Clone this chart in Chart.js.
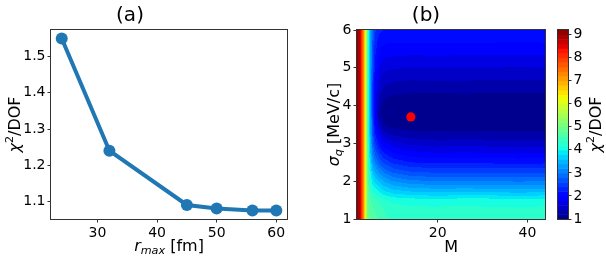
<!DOCTYPE html>
<html>
<head>
    <title>chi2 scans</title>
    <script src="https://cdn.jsdelivr.net/npm/chart.js"></script>
    <style>
        body { margin: 0; background: #fff; }
        .wrap { position: relative; width: 606px; height: 262px; }
        canvas { position: absolute; top: 0; }
        #chartA { left: 0; }
        #chartB { left: 300px; }
        #chartC { left: 550px; }
    </style>
</head>
<body>
<div class="wrap">
    <canvas id="chartA" width="300" height="262"></canvas>
    <canvas id="chartB" width="250" height="262"></canvas>
    <canvas id="chartC" width="56" height="262"></canvas>
</div>
<script>
// (a) chi2/DOF vs r_max
const rmax = [24, 32, 45, 50, 56, 60];
const chi2Rmax = [1.55, 1.24, 1.09, 1.08, 1.075, 1.075];
const rmaxTicks = [30, 40, 50, 60];
const chi2Ticks = [1.1, 1.2, 1.3, 1.4, 1.5];

// (b) chi2/DOF map over M and sigma_q
const mGrid = [2, 2.5, 3, 3.5, 4, 4.5, 5, 5.5, 6, 7, 8, 10, 14, 20, 26, 32, 38, 44];
const sigmaGrid = [1, 1.25, 1.5, 1.75, 2, 2.25, 2.5, 2.75, 3, 3.25, 3.5, 3.75, 4, 4.25, 4.5, 4.75, 5, 5.25, 5.5, 5.75, 6];
// one row per sigma value, one column per M value
const chi2Map = [
    [9.2, 8.9, 8.2, 7.3, 5.8, 4.9, 4.75, 4.7, 4.65, 4.55, 4.45, 4.35, 4.3, 4.32, 4.3, 4.28, 4.3, 4.3],
    [9.2, 8.9, 8.2, 7.3, 5.8, 4.85, 4.7, 4.65, 4.6, 4.5, 4.4, 4.3, 4.25, 4.27, 4.25, 4.24, 4.26, 4.25],
    [9.2, 8.9, 8.2, 7.3, 5.8, 4.8, 4.6, 4.5, 4.45, 4.35, 4.25, 4.15, 4.1, 4.05, 4.12, 4.1, 4.05, 4.1],
    [9.2, 8.9, 8.2, 7.3, 5.8, 4.7, 4.4, 4.2, 4.1, 3.95, 3.8, 3.65, 3.55, 3.5, 3.52, 3.5, 3.48, 3.5],
    [9.2, 8.9, 8.2, 7.3, 5.8, 4.6, 4.2, 3.9, 3.75, 3.55, 3.4, 3.2, 3.05, 3.0, 3.02, 3.0, 2.98, 3.0],
    [9.2, 8.9, 8.2, 7.3, 5.8, 4.5, 4.0, 3.6, 3.4, 3.15, 2.95, 2.75, 2.6, 2.55, 2.56, 2.55, 2.54, 2.55],
    [9.2, 8.9, 8.2, 7.3, 5.8, 4.4, 3.8, 3.3, 3.05, 2.75, 2.55, 2.35, 2.2, 2.15, 2.16, 2.15, 2.14, 2.15],
    [9.2, 8.9, 8.2, 7.3, 5.8, 4.35, 3.6, 3.05, 2.75, 2.4, 2.2, 2.0, 1.85, 1.8, 1.82, 1.8, 1.79, 1.8],
    [9.2, 8.9, 8.2, 7.3, 5.8, 4.3, 3.5, 2.85, 2.5, 2.1, 1.85, 1.7, 1.55, 1.5, 1.51, 1.5, 1.5, 1.5],
    [9.2, 8.9, 8.2, 7.3, 5.8, 4.3, 3.4, 2.7, 2.25, 1.8, 1.5, 1.35, 1.27, 1.25, 1.26, 1.25, 1.25, 1.25],
    [9.2, 8.9, 8.2, 7.3, 5.8, 4.3, 3.4, 2.6, 2.05, 1.45, 1.2, 1.1, 1.08, 1.07, 1.07, 1.07, 1.07, 1.07],
    [9.2, 8.9, 8.2, 7.3, 5.8, 4.3, 3.4, 2.5, 1.9, 1.25, 1.08, 1.03, 1.01, 1.01, 1.01, 1.01, 1.01, 1.01],
    [9.2, 8.9, 8.2, 7.3, 5.8, 4.3, 3.35, 2.5, 1.9, 1.3, 1.12, 1.06, 1.04, 1.04, 1.04, 1.04, 1.04, 1.04],
    [9.2, 8.9, 8.2, 7.3, 5.8, 4.3, 3.35, 2.5, 1.95, 1.4, 1.25, 1.18, 1.16, 1.15, 1.16, 1.15, 1.15, 1.15],
    [9.2, 8.9, 8.2, 7.3, 5.8, 4.3, 3.35, 2.5, 2.0, 1.55, 1.4, 1.33, 1.3, 1.3, 1.31, 1.3, 1.3, 1.3],
    [9.2, 8.9, 8.2, 7.3, 5.8, 4.3, 3.35, 2.55, 2.05, 1.65, 1.52, 1.47, 1.45, 1.46, 1.45, 1.44, 1.45, 1.45],
    [9.2, 8.9, 8.2, 7.3, 5.8, 4.3, 3.35, 2.6, 2.15, 1.78, 1.66, 1.62, 1.6, 1.61, 1.6, 1.6, 1.59, 1.6],
    [9.2, 8.9, 8.2, 7.3, 5.8, 4.3, 3.35, 2.65, 2.2, 1.9, 1.8, 1.77, 1.75, 1.76, 1.75, 1.75, 1.74, 1.75],
    [9.2, 8.9, 8.2, 7.3, 5.8, 4.3, 3.35, 2.7, 2.3, 2.0, 1.93, 1.91, 1.9, 1.91, 1.9, 1.9, 1.89, 1.9],
    [9.2, 8.9, 8.2, 7.3, 5.8, 4.3, 3.35, 2.75, 2.35, 2.12, 2.07, 2.05, 2.05, 2.06, 2.05, 2.05, 2.04, 2.05],
    [9.2, 8.9, 8.2, 7.3, 5.8, 4.3, 3.35, 2.8, 2.45, 2.25, 2.2, 2.17, 2.15, 2.16, 2.15, 2.15, 2.14, 2.15]
];
const bestM = [14];
const bestSigma = [3.7];
const mTicks = [20, 40];
const sigmaTicks = [1, 2, 3, 4, 5, 6];
const cbarTicks = [1, 2, 3, 4, 5, 6, 7, 8, 9];
const cbarMin = 1, cbarMax = 9.2, cbarStep = 0.2;

Chart.defaults.font.family = '"DejaVu Sans"';
Chart.defaults.color = '#000';

function jet(t) {
    t = Math.max(0, Math.min(1, t));
    const seg = pts => {
        for (let i = 1; i < pts.length; i++) {
            if (t <= pts[i][0]) {
                const [t0, v0] = pts[i - 1], [t1, v1] = pts[i];
                return v0 + (v1 - v0) * (t - t0) / (t1 - t0);
            }
        }
        return pts[pts.length - 1][1];
    };
    return [
        seg([[0, 0], [0.35, 0], [0.66, 1], [0.89, 1], [1, 0.5]]),
        seg([[0, 0], [0.125, 0], [0.375, 1], [0.64, 1], [0.91, 0], [1, 0]]),
        seg([[0, 0.5], [0.11, 1], [0.34, 1], [0.65, 0], [1, 0]])
    ].map(c => Math.round(c * 255));
}

function bandColor(v) {
    const k = Math.min(Math.floor((v - cbarMin) / cbarStep), Math.round((cbarMax - cbarMin) / cbarStep) - 1);
    const mid = cbarMin + (Math.max(k, 0) + 0.5) * cbarStep;
    return jet((mid - cbarMin) / (cbarMax - cbarMin));
}

function findCell(grid, v) {
    let i = 0;
    while (i < grid.length - 2 && v > grid[i + 1]) i++;
    const f = Math.max(0, Math.min(1, (v - grid[i]) / (grid[i + 1] - grid[i])));
    return [i, f];
}

function sampleMap(m, s) {
    const [i, fx] = findCell(mGrid, m);
    const [j, fy] = findCell(sigmaGrid, s);
    const a = chi2Map[j][i], b = chi2Map[j][i + 1];
    const c = chi2Map[j + 1][i], d = chi2Map[j + 1][i + 1];
    return (a * (1 - fx) + b * fx) * (1 - fy) + (c * (1 - fx) + d * fx) * fy;
}

function drawRich(ctx, parts, cx, cy, rot, size) {
    ctx.save();
    ctx.translate(cx, cy);
    ctx.rotate(rot);
    const fontOf = p => (p.italic ? 'italic ' : '') + (p.sub || p.sup ? size * 0.7 : size) + 'px "DejaVu Sans"';
    let total = 0;
    const widths = parts.map(p => {
        ctx.font = fontOf(p);
        const w = ctx.measureText(p.text).width;
        total += w;
        return w;
    });
    let x = -total / 2;
    ctx.fillStyle = '#000';
    ctx.textBaseline = 'alphabetic';
    parts.forEach((p, i) => {
        ctx.font = fontOf(p);
        let dy = size * 0.36;
        if (p.sub) dy += size * 0.2;
        if (p.sup) dy -= size * 0.42;
        ctx.fillText(p.text, x, dy);
        x += widths[i];
    });
    ctx.restore();
}

function labelsPlugin(list) {
    return {
        id: 'richLabels',
        afterDraw(chart) {
            const a = chart.chartArea;
            list.forEach(l => drawRich(chart.ctx, l.parts, l.x(a), l.y(a), l.rot || 0, l.size));
        }
    };
}

const framePlugin = {
    id: 'frame',
    afterDraw(chart) {
        const { ctx, chartArea: a } = chart;
        ctx.save();
        ctx.strokeStyle = '#333';
        ctx.lineWidth = 1;
        ctx.strokeRect(Math.round(a.left) - 0.5, Math.round(a.top) - 0.5,
            Math.round(a.right - a.left) + 1, Math.round(a.bottom - a.top) + 1);
        ctx.restore();
    }
};

const heatmapPlugin = {
    id: 'heatmap',
    beforeDatasetsDraw(chart) {
        const { ctx, chartArea: a, scales: { x, y } } = chart;
        const w = Math.round(a.right - a.left), h = Math.round(a.bottom - a.top);
        const off = document.createElement('canvas');
        off.width = w; off.height = h;
        const octx = off.getContext('2d');
        const img = octx.createImageData(w, h);
        for (let j = 0; j < h; j++) {
            const s = y.getValueForPixel(a.top + j + 0.5);
            for (let i = 0; i < w; i++) {
                const m = x.getValueForPixel(a.left + i + 0.5);
                const [r, g, b] = bandColor(sampleMap(m, s));
                const k = (j * w + i) * 4;
                img.data[k] = r; img.data[k + 1] = g; img.data[k + 2] = b; img.data[k + 3] = 255;
            }
        }
        octx.putImageData(img, 0, 0);
        ctx.drawImage(off, Math.round(a.left), Math.round(a.top));
    }
};

const colorbarPlugin = {
    id: 'colorbar',
    beforeDatasetsDraw(chart) {
        const { ctx, chartArea: a, scales: { y } } = chart;
        for (let v = cbarMin; v < cbarMax - 1e-9; v += cbarStep) {
            const top = y.getPixelForValue(Math.min(v + cbarStep, cbarMax));
            const bottom = y.getPixelForValue(v);
            const [r, g, b] = bandColor(v + cbarStep / 2);
            ctx.fillStyle = `rgb(${r},${g},${b})`;
            ctx.fillRect(a.left, top, a.right - a.left, bottom - top + 0.5);
        }
    }
};

function axisOpts(min, max, tickList, extra) {
    return Object.assign({
        type: 'linear',
        min: min,
        max: max,
        afterBuildTicks: s => { s.ticks = tickList.map(v => ({ value: v })); },
        grid: { drawOnChartArea: false, drawTicks: true, tickLength: 3.5, color: '#333' },
        border: { display: false },
        ticks: { font: { size: 14 }, color: '#000', padding: 2, autoSkip: false, maxRotation: 0 }
    }, extra);
}

const chi2Label = [{ text: 'χ', italic: true }, { text: '2', sup: true }, { text: '/DOF' }];

new Chart(document.getElementById('chartA'), {
    type: 'line',
    data: {
        datasets: [{
            data: rmax.map((r, i) => ({ x: r, y: chi2Rmax[i] })),
            borderColor: '#1f77b4',
            backgroundColor: '#1f77b4',
            borderWidth: 4,
            pointRadius: 6,
            pointHoverRadius: 6,
            pointBorderWidth: 0,
            tension: 0
        }]
    },
    options: {
        responsive: false,
        animation: false,
        events: [],
        layout: { padding: { top: 30, right: 13, left: 0, bottom: 0 } },
        plugins: { legend: { display: false }, tooltip: { enabled: false } },
        scales: {
            x: axisOpts(22.2, 61.8, rmaxTicks, { afterFit: s => { s.height = 43; } }),
            y: axisOpts(1.05125, 1.57375, chi2Ticks, { afterFit: s => { s.width = 51; } })
        }
    },
    plugins: [framePlugin, labelsPlugin([
        { parts: [{ text: '(a)' }], size: 20, x: () => 130, y: () => 14 },
        { parts: [{ text: 'r', italic: true }, { text: 'max', italic: true, sub: true }, { text: ' [fm]' }],
          size: 16, x: a => (a.left + a.right) / 2, y: () => 245 },
        { parts: chi2Label, size: 16, x: () => 14, y: a => (a.top + a.bottom) / 2, rot: -Math.PI / 2 }
    ])]
});

new Chart(document.getElementById('chartB'), {
    type: 'scatter',
    data: {
        datasets: [{
            data: bestM.map((m, i) => ({ x: m, y: bestSigma[i] })),
            backgroundColor: '#ff0000',
            borderWidth: 0,
            pointRadius: 4.6,
            pointHoverRadius: 4.6
        }]
    },
    options: {
        responsive: false,
        animation: false,
        events: [],
        layout: { padding: { top: 30, right: 3, left: 0, bottom: 0 } },
        plugins: { legend: { display: false }, tooltip: { enabled: false } },
        scales: {
            x: axisOpts(2, 44, mTicks, { afterFit: s => { s.height = 43; } }),
            y: axisOpts(1, 6, sigmaTicks, { afterFit: s => { s.width = 57; } })
        }
    },
    plugins: [heatmapPlugin, framePlugin, labelsPlugin([
        { parts: [{ text: '(b)' }], size: 20, x: () => 126, y: () => 14 },
        { parts: [{ text: 'M' }], size: 16, x: a => (a.left + a.right) / 2, y: () => 246 },
        { parts: [{ text: 'σ', italic: true }, { text: 'q', italic: true, sub: true }, { text: ' [MeV/c]' }],
          size: 16, x: () => 33, y: a => (a.top + a.bottom) / 2, rot: -Math.PI / 2 }
    ])]
});

new Chart(document.getElementById('chartC'), {
    type: 'scatter',
    data: { datasets: [{ data: [] }] },
    options: {
        responsive: false,
        animation: false,
        events: [],
        layout: { padding: { top: 30, right: 0, left: 8, bottom: 43 } },
        plugins: { legend: { display: false }, tooltip: { enabled: false } },
        scales: {
            x: { type: 'linear', display: false, min: 0, max: 1 },
            y: axisOpts(cbarMin, cbarMax, cbarTicks, { position: 'right', afterFit: s => { s.width = 38; } })
        }
    },
    plugins: [colorbarPlugin, framePlugin, labelsPlugin([
        { parts: chi2Label, size: 16, x: () => 45, y: a => (a.top + a.bottom) / 2, rot: -Math.PI / 2 }
    ])]
});
</script>
</body>
</html>
